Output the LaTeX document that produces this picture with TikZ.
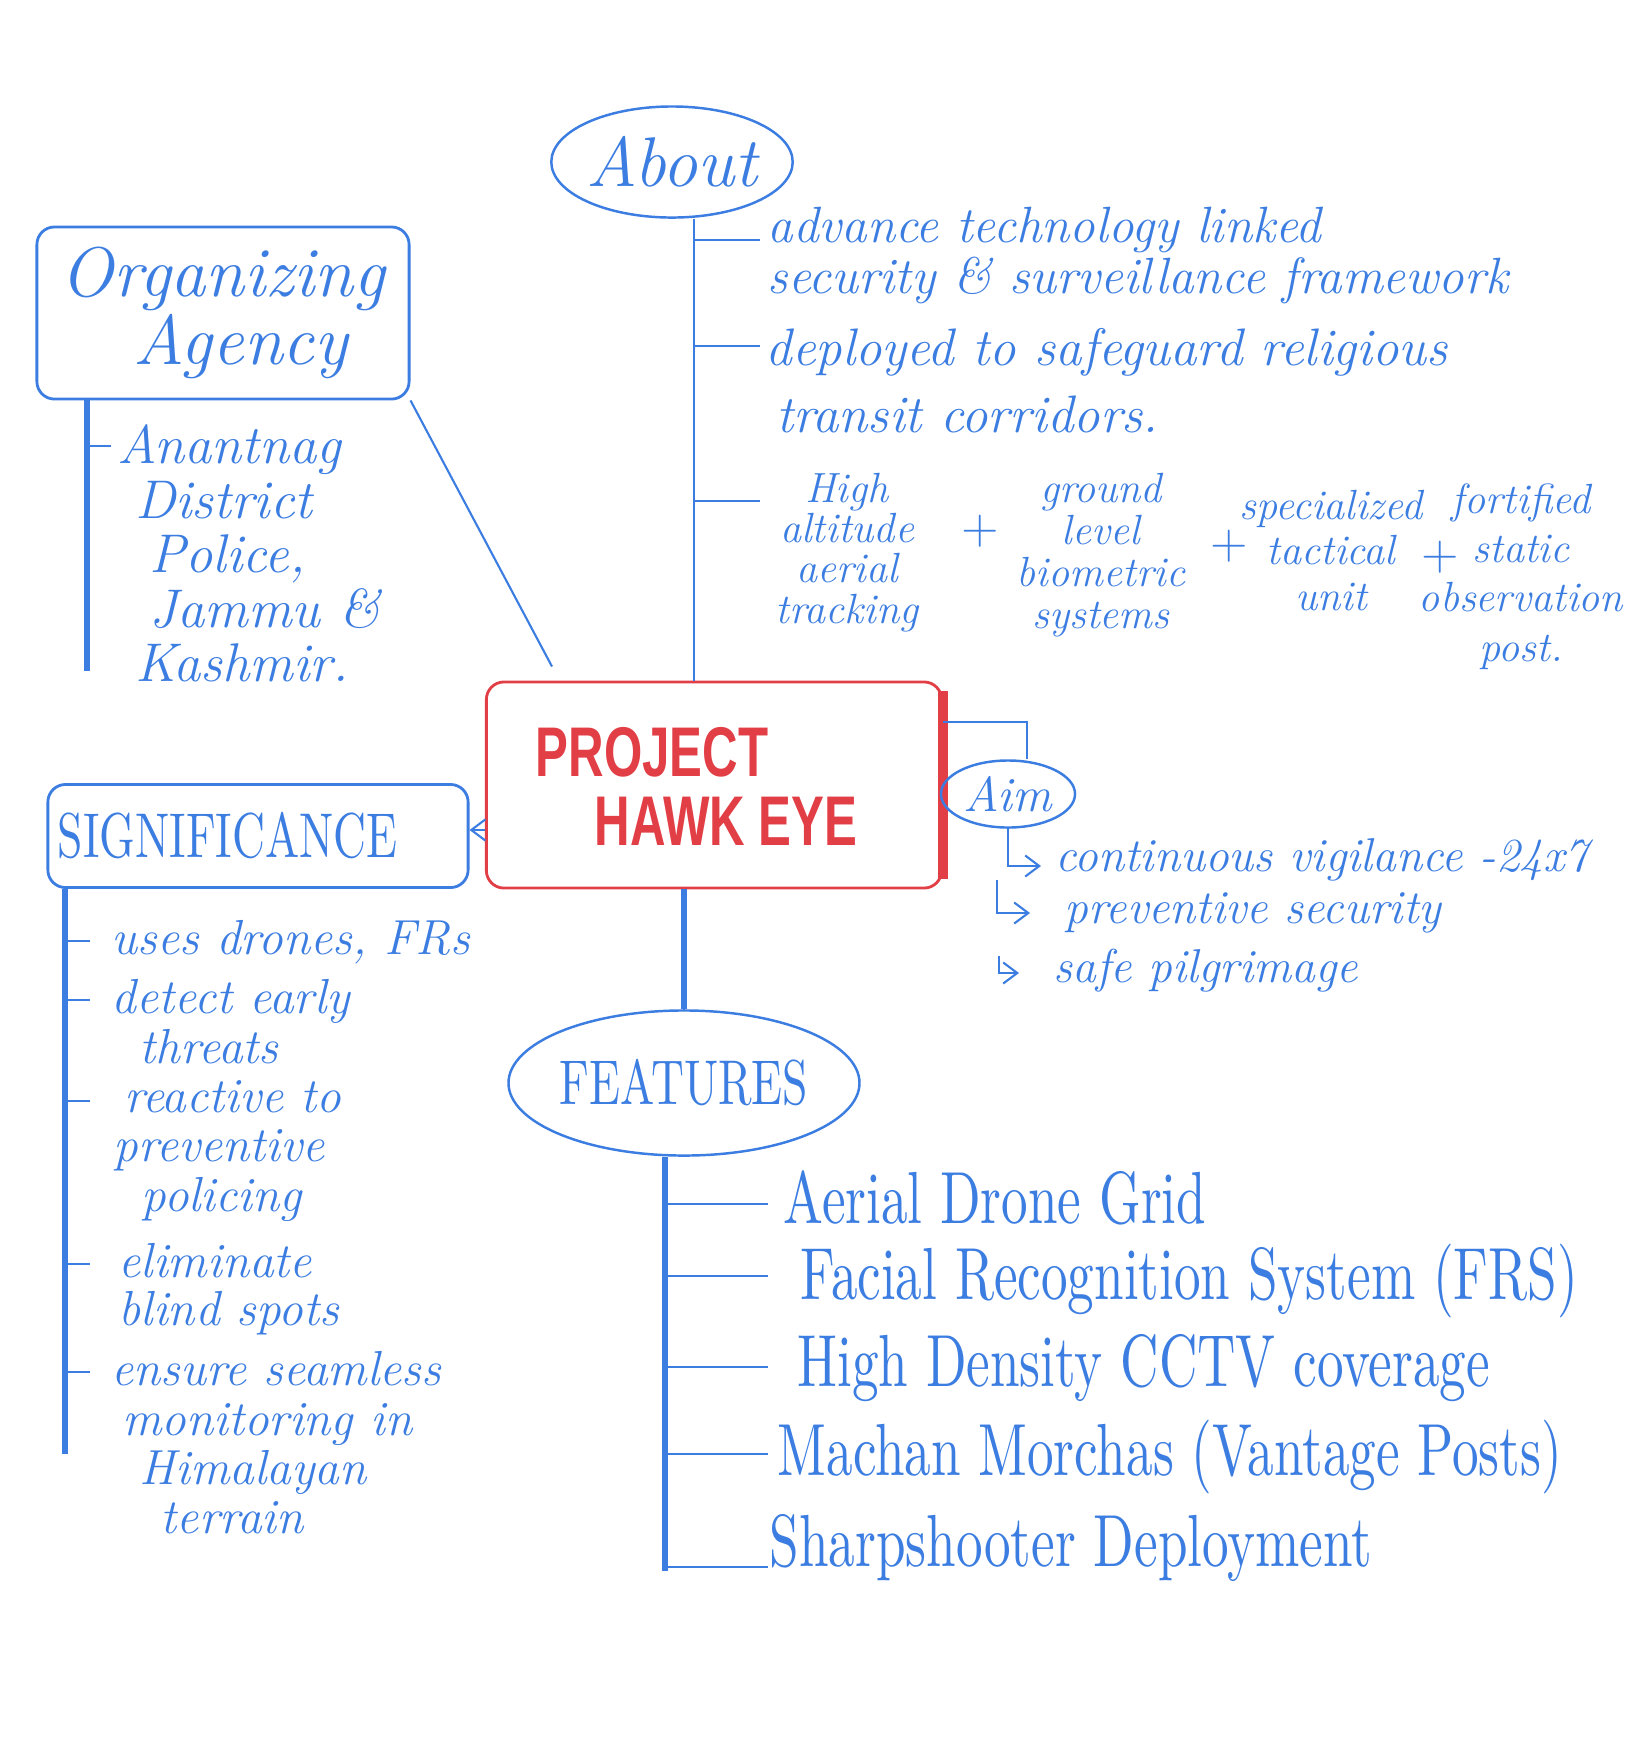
\documentclass[tikz,border=0pt]{standalone}
\usepackage{fontspec}
\usetikzlibrary{shapes.geometric,arrows.meta}

\definecolor{inkblue}{RGB}{60,125,225}
\definecolor{inkred}{RGB}{226,62,70}
\newfontfamily\tallfont[FakeStretch=0.72,Extension=.otf,UprightFont=*-regular,ItalicFont=*-italic]{lmroman10}
\newfontfamily\brushfont[FakeStretch=0.7]{Liberation Sans}
\newcommand{\inksize}[2]{\fontsize{#1}{#2}\selectfont}

\tikzset{
  trunk/.style={inkblue, line width=1.7pt},
  twig/.style={inkblue, line width=0.6pt},
  bubble/.style={ellipse, draw=inkblue, line width=0.7pt, text=inkblue, inner sep=0pt},
  card/.style={draw=inkblue, line width=0.8pt, rounded corners=5pt, text=inkblue},
  note/.style={text=inkblue, inner sep=0pt, align=left, anchor=north west},
  column/.style={text=inkblue, inner sep=0pt, align=center, anchor=north},
}

\begin{document}
\begin{tikzpicture}[x=0.01cm, y=-0.01cm, >={Straight Barb[length=4pt,width=6pt]}]
    % 0. Khung hinh
    \useasboundingbox (0,0) rectangle (1640,1747);

    % 1. Nut trung tam
    \node[draw=inkred, line width=0.8pt, rounded corners=5pt, minimum width=4.55cm, minimum height=2.06cm] (proj) at (714,785) {};
    \draw[inkred, line width=2.6pt] ([yshift=-3pt]proj.north east) -- ([yshift=3pt]proj.south east);
    \node[text=inkred, font=\brushfont\bfseries\inksize{20}{20}] (projA) at (652,752) {PROJECT};
    \node[text=inkred, font=\brushfont\bfseries\inksize{20}{20}] (projB) at (726,821) {HAWK EYE};

    % 2. About
    \node[bubble, minimum width=2.36cm, minimum height=1.11cm, font=\itshape\inksize{20}{20}] (about) at (672,162) {About};
    \coordinate (aboutx) at (694,0);
    \draw[twig] (aboutx |- about.south) -- (aboutx |- proj.north);
    \foreach \y in {240,346,501}
        \draw[twig] (694,\y) -- (760,\y);
    \node[note, font=\itshape\inksize{14.5}{14.5}] (about1) at (767,206) {advance technology linked\\security \& surveillance framework};
    \node[note, font=\itshape\inksize{15}{19}] (about2) at (765,328) {deployed to safeguard religious\\\hspace*{3pt}transit corridors.};
    \node[column, font=\itshape\inksize{12}{11.5}] (about3a) at (847,472) {High\\altitude\\aerial\\tracking};
    \node[text=inkblue, font=\inksize{14}{14}] (plusA) at (980,531) {+};
    \node[column, font=\itshape\inksize{12}{12}] (about3b) at (1101,472) {ground\\level\\biometric\\systems};
    \node[text=inkblue, font=\inksize{14}{14}] (plusB) at (1229,546) {+};
    \node[column, font=\itshape\inksize{12}{13}] (about3c) at (1331,489) {specialized\\tactical\\unit};
    \node[text=inkblue, font=\inksize{14}{14}] (plusC) at (1440,557) {+};
    \node[column, font=\itshape\inksize{12}{14}] (about3d) at (1521,483) {fortified\\static\\observation\\post.};

    % 3. Organizing agency
    \node[card, minimum width=3.72cm, minimum height=1.72cm, align=center, font=\itshape\inksize{20}{17}] (agency) at (223,313) {Organizing\\\hspace*{10pt}Agency};
    \draw[twig] (agency.south east) -- ([xshift=0.67cm, yshift=0.14cm]proj.north west);
    \coordinate (agx) at (87,0);
    \draw[trunk] (agx |- agency.south) -- (87,671);
    \draw[twig] (87,446) -- (111,446);
    \node[note, font=\itshape\inksize{15.5}{15.5}] (agency1) at (117,424) {Anantnag\\\hspace*{5pt}District\\\hspace*{9pt}Police,\\\hspace*{9pt}Jammu \&\\\hspace*{5pt}Kashmir.};

    % 4. Significance
    \node[card, text width=4.0cm, inner sep=0.1cm, minimum height=1.03cm, align=left, font=\tallfont\inksize{18}{18}] (signif) at (258,836) {SIGNIFICANCE};
    \coordinate (sigarrow) at (0,830);
    \draw[twig, ->] (proj.west |- sigarrow) -- (signif.east |- sigarrow);
    \coordinate (sigx) at (65,0);
    \draw[trunk] (sigx |- signif.south) -- (65,1454);
    \foreach \y in {941,1000,1101,1264,1372}
        \draw[twig] (65,\y) -- (90,\y);
    \node[note, font=\itshape\inksize{14}{14}] (sig1) at (111,920) {uses drones, FRs};
    \node[note, font=\itshape\inksize{14}{14}] (sig2) at (111,979) {detect early\\\hspace*{8pt}threats};
    \node[note, font=\itshape\inksize{14}{14}] (sig3) at (113,1080) {\hspace*{3pt}reactive to\\preventive\\\hspace*{8pt}policing};
    \node[note, font=\itshape\inksize{14}{13.5}] (sig4) at (118,1243) {eliminate\\blind spots};
    \node[note, font=\itshape\inksize{14}{14}] (sig5) at (111,1351) {ensure seamless\\\hspace*{3pt}monitoring in\\\hspace*{8pt}Himalayan\\\hspace*{14pt}terrain};

    % 5. Aim
    \node[bubble, minimum width=1.34cm, minimum height=0.67cm, font=\itshape\inksize{14}{14}] (aim) at (1008,794) {Aim};
    \coordinate (aimbend) at (1027,722);
    \draw[twig] (proj.east |- aimbend) -- (aimbend) -- (aimbend |- aim.north);
    \coordinate (aimA) at (1041,866);
    \coordinate (aimB0) at (997,880);
    \coordinate (aimB) at (1030,913);
    \coordinate (aimC0) at (999,956);
    \coordinate (aimC) at (1019,973);
    \draw[twig, ->] (aim.south) |- (aimA);
    \draw[twig, ->] (aimB0) |- (aimB);
    \draw[twig, ->] (aimC0) |- (aimC);
    \node[note, anchor=west, font=\itshape\inksize{13.5}{13.5}] (aim1) at (1055,860) {continuous vigilance -24x7};
    \node[note, anchor=west, font=\itshape\inksize{13.5}{13.5}] (aim2) at (1064,913) {preventive security};
    \node[note, anchor=west, font=\itshape\inksize{13.5}{13.5}] (aim3) at (1053,971) {safe pilgrimage};

    % 6. Features
    \node[bubble, minimum width=3.15cm, minimum height=1.45cm, font=\tallfont\inksize{18}{18}] (features) at (684,1083) {FEATURES};
    \draw[trunk] (features.north) -- (features.north |- proj.south);
    \coordinate (featx) at (665,0);
    \draw[trunk] (featx |- features.south) -- (665,1571);
    \foreach \y in {1204,1276,1367,1454,1567}
        \draw[twig] (665,\y) -- (768,\y);
    \node[note, anchor=west, font=\tallfont\inksize{21}{21}] (feat1) at (783,1198) {Aerial Drone Grid};
    \node[note, anchor=west, font=\tallfont\inksize{21}{21}] (feat2) at (800,1281) {Facial Recognition System (FRS)};
    \node[note, anchor=west, font=\tallfont\inksize{21}{21}] (feat3) at (797,1368) {High Density CCTV coverage};
    \node[note, anchor=west, font=\tallfont\inksize{21}{21}] (feat4) at (777,1457) {Machan Morchas (Vantage Posts)};
    \node[note, anchor=west, font=\tallfont\inksize{21}{21}] (feat5) at (769,1548) {Sharpshooter Deployment};
\end{tikzpicture}
\end{document}
